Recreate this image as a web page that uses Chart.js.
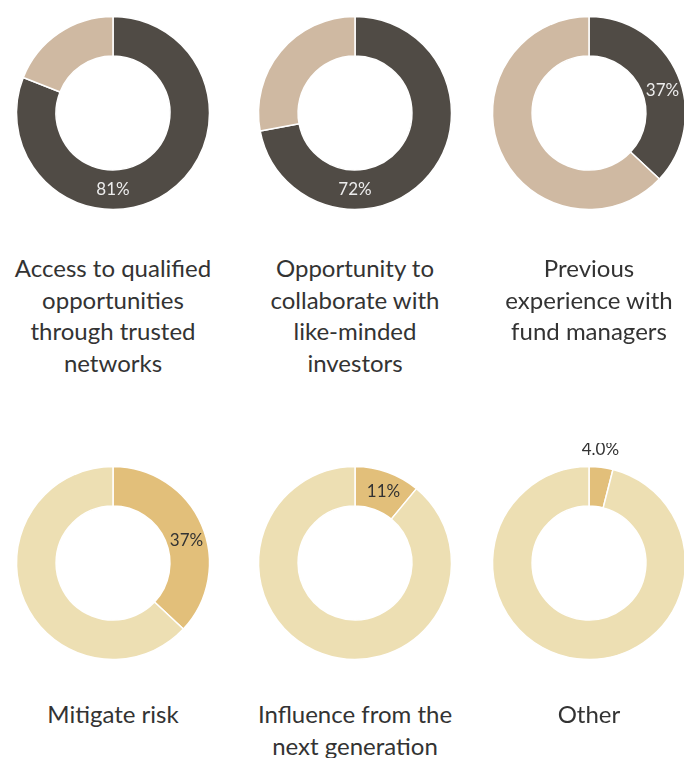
<!DOCTYPE html>
<html>
<head>
<meta charset="utf-8">
<script src="https://cdn.jsdelivr.net/npm/chart.js@4.4.1/dist/chart.umd.min.js"></script>
<style>
  html, body { margin: 0; padding: 0; background: #fff; }
  body { position: relative; width: 684px; height: 758px; overflow: hidden; }
  .donut { position: absolute; width: 240px; height: 240px; }
  .cap {
    position: absolute; width: 250px; text-align: center;
    font-family: Lato, "Open Sans", sans-serif; font-weight: 400;
    font-size: 24px; line-height: 31.5px; color: #333;
  }
</style>
</head>
<body>
<div id="wrap"></div>
<script>
// reasons investors join, share of respondents (%)
const reasons = [
  ["Access to qualified", "opportunities", "through trusted", "networks"],
  ["Opportunity to", "collaborate with", "like-minded", "investors"],
  ["Previous", "experience with", "fund managers"],
  ["Mitigate risk"],
  ["Influence from the", "next generation"],
  ["Other"],
];
const shares = [81, 72, 37, 37, 11, 4.0];
const restShares = [19, 28, 63, 63, 89, 96];
const shareLabels = ["81%", "72%", "37%", "37%", "11%", "4.0%"];

// layout
const colX = [113, 355, 589];
const rowY = [113, 563];
const capTop = [252, 698];
const rowColors = [
  { hi: "#504b45", lo: "#cfb9a2", text: "#ececec" },
  { hi: "#e2bf7a", lo: "#eddfb3", text: "#333333" },
];

const pctLabel = {
  id: "pctLabel",
  afterDatasetsDraw(chart, args, opts) {
    const arc = chart.getDatasetMeta(0).data[0];
    const p = arc.getProps(["x", "y", "startAngle", "endAngle", "innerRadius", "outerRadius"], true);
    let ang = p.startAngle + 0.55 * (p.endAngle - p.startAngle);
    let r = (p.innerRadius + p.outerRadius) / 2;
    if (opts.place === "bottom") ang = Math.PI / 2;
    if (opts.place === "outside") {
      ang = (p.startAngle + p.endAngle) / 2;
      r = p.outerRadius + 18;
    }
    const ctx = chart.ctx;
    ctx.save();
    ctx.font = "400 17px Lato, 'Open Sans', sans-serif";
    ctx.fillStyle = opts.color;
    ctx.textAlign = "center";
    ctx.textBaseline = "middle";
    ctx.fillText(opts.text, p.x + r * Math.cos(ang) - (opts.place === "outside" ? 3 : 0), p.y + r * Math.sin(ang));
    ctx.restore();
  },
};

const wrap = document.getElementById("wrap");
shares.forEach((v, i) => {
  const row = Math.floor(i / 3), col = i % 3;
  const c = rowColors[row];
  const cv = document.createElement("canvas");
  cv.className = "donut";
  cv.width = 240; cv.height = 240;
  cv.style.left = (colX[col] - 120) + "px";
  cv.style.top = (rowY[row] - 120) + "px";
  wrap.appendChild(cv);

  const cap = document.createElement("div");
  cap.className = "cap";
  cap.style.left = (colX[col] - 125) + "px";
  cap.style.top = capTop[row] + "px";
  cap.innerHTML = reasons[i].join("<br>");
  wrap.appendChild(cap);

  const place = v >= 50 ? "bottom" : v < 5 ? "outside" : "mid";
  new Chart(cv, {
    type: "doughnut",
    data: {
      labels: ["Yes", "No"],
      datasets: [{ data: [v, restShares[i]], backgroundColor: [c.hi, c.lo], borderColor: "#fff", borderWidth: 1.5 }],
    },
    options: {
      responsive: false, animation: false, radius: 96.5, cutout: "59%",
      plugins: {
        legend: { display: false }, tooltip: { enabled: false },
        pctLabel: { text: shareLabels[i], color: c.text, place },
      },
    },
    plugins: [pctLabel],
  });
});
</script>
</body>
</html>
